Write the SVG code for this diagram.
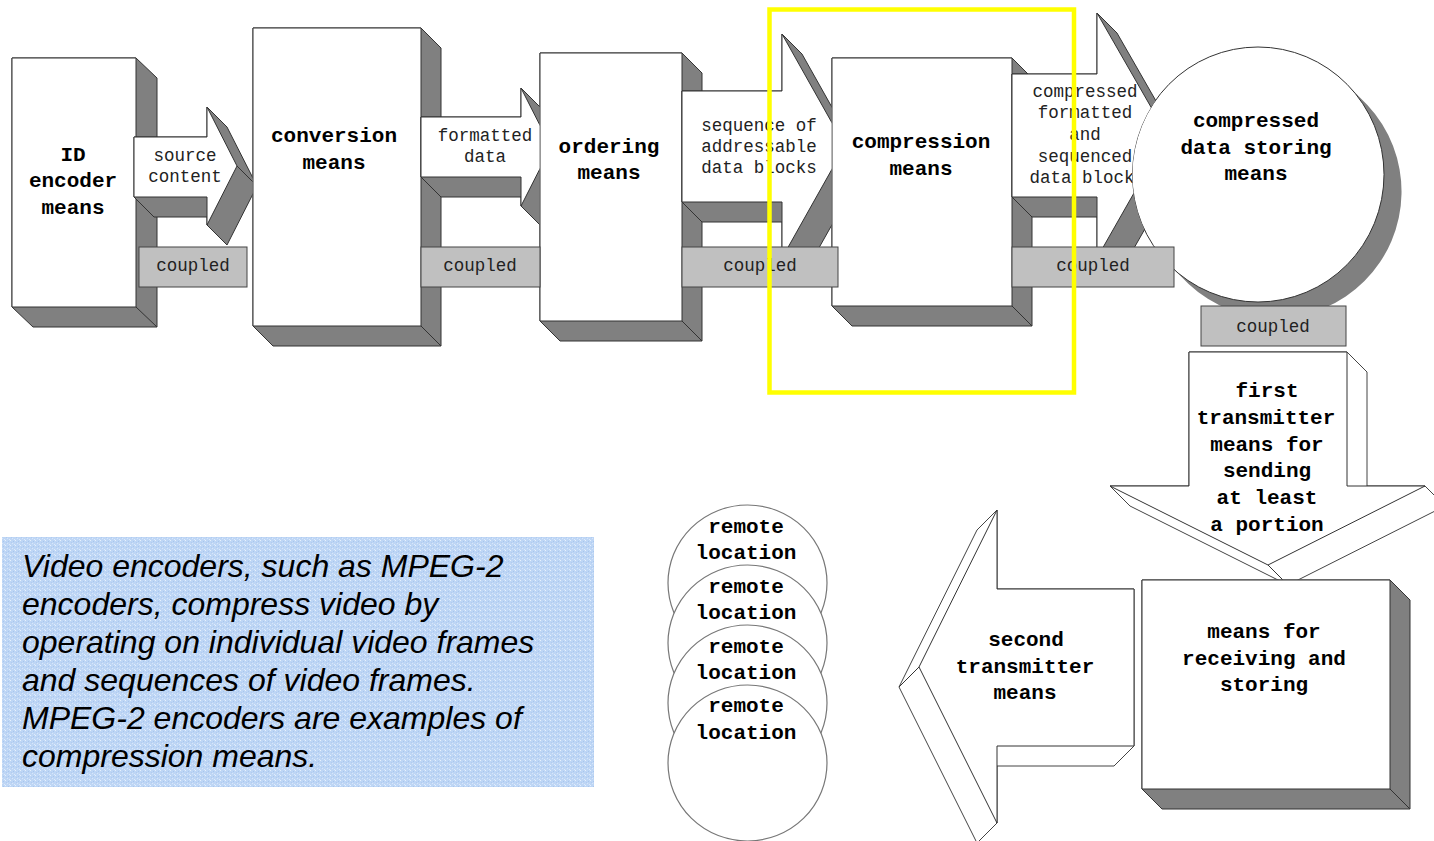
<svg xmlns="http://www.w3.org/2000/svg" width="1434" height="841" viewBox="0 0 1434 841">
<style>
.side{fill:#808080;stroke:#333;stroke-width:1;stroke-linejoin:round}
.face{fill:#fff;stroke:#333;stroke-width:1;stroke-linejoin:round}
.wside{fill:#fff;stroke:#444;stroke-width:1;stroke-linejoin:round}
.bar{fill:#c0c0c0;stroke:#444;stroke-width:1}
.ln{stroke:#333;stroke-width:1;fill:none}
.lb{font-family:"Liberation Mono","DejaVu Sans Mono",monospace;font-weight:bold;font-size:21px;text-anchor:middle;fill:#000}
.ls{font-family:"Liberation Mono","DejaVu Sans Mono",monospace;font-size:17.5px;text-anchor:middle;fill:#222}
.rc{fill:#fff;stroke:#777;stroke-width:1.2}
.note{font-family:"Liberation Sans",Arial,sans-serif;font-style:italic;font-size:32px;fill:#000}
</style>
<defs>
<clipPath id="c1"><rect x="0" y="0" width="252.5" height="841"/></clipPath>
<clipPath id="c2"><rect x="0" y="0" width="539.5" height="841"/></clipPath>
<clipPath id="c3"><rect x="0" y="0" width="831.5" height="841"/></clipPath>
<clipPath id="c4"><path clip-rule="evenodd" d="M0 0H1434V841H0Z M1132 174.5a126 127.5 0 1 0 252 0a126 127.5 0 1 0 -252 0Z"/></clipPath>
<clipPath id="c5"><rect x="0" y="0" width="1434" height="579.5"/></clipPath>
<pattern id="tex" width="5" height="5" patternUnits="userSpaceOnUse">
<rect width="5" height="5" fill="#bed6f5"/>
<rect x="0" y="0" width="1" height="1" fill="#e6f0fd"/>
<rect x="2" y="3" width="1" height="1" fill="#d8e6fa"/>
<rect x="3" y="1" width="1" height="1" fill="#a8c6ef"/>
<rect x="4" y="4" width="1" height="1" fill="#deeafb"/>
<rect x="1" y="2" width="1" height="1" fill="#b0cbf1"/>
</pattern>
</defs>
<rect width="1434" height="841" fill="#fff"/>

<g id="id-encoder">
<polygon class="side" points="12,58 136,58 157,78 157,327 33,327 12,307"/>
<line class="ln" x1="136" y1="307" x2="157" y2="327"/>
<rect class="face" x="12" y="58" width="124" height="249"/>
<text class="lb" x="73" y="161">ID</text>
<text class="lb" x="73" y="187">encoder</text>
<text class="lb" x="73" y="214">means</text>
</g>

<g id="conversion">
<polygon class="side" points="253,28 421,28 441,48 441,346 273,346 253,326"/>
<line class="ln" x1="421" y1="326" x2="441" y2="346"/>
<rect class="face" x="253" y="28" width="168" height="298"/>
<text class="lb" x="334" y="142">conversion</text>
<text class="lb" x="334" y="169">means</text>
</g>

<g id="ordering">
<polygon class="side" points="540,53 682,53 702,73 702,341 560,341 540,321"/>
<line class="ln" x1="682" y1="321" x2="702" y2="341"/>
<rect class="face" x="540" y="53" width="142" height="268"/>
<text class="lb" x="609" y="153">ordering</text>
<text class="lb" x="609" y="179">means</text>
</g>

<g id="compression">
<polygon class="side" points="832,58 1012,58 1032,78 1032,326 852,326 832,306"/>
<line class="ln" x1="1012" y1="306" x2="1032" y2="326"/>
<rect class="face" x="832" y="58" width="180" height="248"/>
<text class="lb" x="921" y="148">compression</text>
<text class="lb" x="921" y="175">means</text>
</g>

<g id="storing">
<path d="M1347.4 85.1L1367.4 105.1A126.5 126.5 0 0 1 1188.6 283.9L1168.6 263.9A126.5 126.5 0 0 0 1347.4 85.1Z" fill="#808080"/>
<ellipse class="face" cx="1258" cy="174.5" rx="126" ry="127.5"/>
<text class="lb" x="1256" y="127">compressed</text>
<text class="lb" x="1256" y="154">data storing</text>
<text class="lb" x="1256" y="180">means</text>
</g>

<g id="connectors">
<g id="arrow-source" clip-path="url(#c1)">
<polygon class="side" points="134,137 207,137 207,107 227,127 257,186 227,245 207,225 207,217 154,217 134,197"/>
<line class="ln" x1="237" y1="166" x2="257" y2="186"/>
<polygon class="face" points="134,137 207,137 207,107 237,166 207,225 207,197 134,197"/>
<text class="ls" x="185" y="161">source</text>
<text class="ls" x="185" y="182">content</text>
</g>
<g id="arrow-formatted" clip-path="url(#c2)">
<polygon class="side" points="421,117 521,117 521,88 541,108 571,167 541,226 521,206 521,197 441,197 421,177"/>
<polygon class="face" points="421,117 521,117 521,88 551,147 521,206 521,177 421,177"/>
<text class="ls" x="485" y="141">formatted</text>
<text class="ls" x="485" y="162">data</text>
</g>
<g id="arrow-sequence" clip-path="url(#c3)">
<polygon class="side" points="682,91 782,91 782,34 802,54 865,166 802,278 782,258 782,222 702,222 682,202"/>
<polygon class="face" points="682,91 782,91 782,34 845,146 782,258 782,202 682,202"/>
<text class="ls" x="759" y="131">sequence of</text>
<text class="ls" x="759" y="152">addressable</text>
<text class="ls" x="759" y="173">data blocks</text>
</g>
<g id="arrow-compressed" clip-path="url(#c4)">
<polygon class="side" points="1012,74 1097,74 1097,13 1117,33 1187,155 1117,278 1097,258 1097,217 1032,217 1012,197"/>
<polygon class="face" points="1012,74 1097,74 1097,13 1167,135 1097,258 1097,197 1012,197"/>
<text class="ls" x="1085" y="97">compressed</text>
<text class="ls" x="1085" y="118">formatted</text>
<text class="ls" x="1085" y="140">and</text>
<text class="ls" x="1085" y="162">sequenced</text>
<text class="ls" x="1082" y="183">data block</text>
</g>
<g id="coupled-bars">
<rect class="bar" x="139" y="247" width="108" height="40"/>
<text class="ls" x="193" y="271">coupled</text>
<rect class="bar" x="421" y="247" width="119" height="40"/>
<text class="ls" x="480" y="271">coupled</text>
<rect class="bar" x="682" y="247" width="156" height="40"/>
<text class="ls" x="760" y="271">coupled</text>
<rect class="bar" x="1012" y="247" width="162" height="40"/>
<text class="ls" x="1093" y="271">coupled</text>
<rect class="bar" x="1201" y="306" width="145" height="40"/>
<text class="ls" x="1273" y="332">coupled</text>
</g>
<g id="arrow-first" clip-path="url(#c5)">
<polygon class="wside" points="1189,352 1347,352 1367,372 1367,486 1425,486 1445,506 1288,585 1130,506 1110,486 1189,486"/>
<line class="ln" x1="1268" y1="565" x2="1288" y2="585"/>
<polygon class="face" points="1189,352 1347,352 1347,486 1425,486 1268,565 1110,486 1189,486"/>
<text class="lb" x="1267" y="397">first</text>
<text class="lb" x="1266" y="424">transmitter</text>
<text class="lb" x="1267" y="451">means for</text>
<text class="lb" x="1267" y="477">sending</text>
<text class="lb" x="1267" y="504">at least</text>
<text class="lb" x="1267" y="531">a portion</text>
</g>
</g>

<g id="receiving">
<polygon class="side" points="1142,580 1390,580 1410,600 1410,809 1162,809 1142,789"/>
<line class="ln" x1="1390" y1="789" x2="1410" y2="809"/>
<rect class="face" x="1142" y="580" width="248" height="209"/>
<text class="lb" x="1264" y="638">means for</text>
<text class="lb" x="1264" y="665">receiving and</text>
<text class="lb" x="1264" y="691">storing</text>
</g>

<g id="second-transmitter">
<polygon class="wside" points="997,510 997,589 1134,589 1134,746 1114,766 997,766 997,823 977,843 899,687 977,530"/>
<line class="ln" x1="919" y1="667" x2="899" y2="687"/>
<polygon class="face" points="997,510 997,589 1134,589 1134,746 997,746 997,823 919,667"/>
<text class="lb" x="1026" y="646">second</text>
<text class="lb" x="1025" y="673">transmitter</text>
<text class="lb" x="1025" y="699">means</text>
</g>

<g id="remote-1">
<ellipse class="rc" cx="747.5" cy="583" rx="79.5" ry="78"/>
<text class="lb" x="746" y="533">remote</text>
<text class="lb" x="746" y="559">location</text>
</g>
<g id="remote-2">
<ellipse class="rc" cx="747.5" cy="643" rx="79.5" ry="78"/>
<text class="lb" x="746" y="593">remote</text>
<text class="lb" x="746" y="619">location</text>
</g>
<g id="remote-3">
<ellipse class="rc" cx="747.5" cy="703" rx="79.5" ry="78"/>
<text class="lb" x="746" y="653">remote</text>
<text class="lb" x="746" y="679">location</text>
</g>
<g id="remote-4">
<ellipse class="rc" cx="747.5" cy="763" rx="79.5" ry="78"/>
<text class="lb" x="746" y="712">remote</text>
<text class="lb" x="746" y="739">location</text>
</g>

<g id="note">
<rect x="2" y="537" width="592" height="250" fill="url(#tex)"/>
<text class="note" x="22" y="577">Video encoders, such as MPEG-2</text>
<text class="note" x="22" y="615">encoders, compress video by</text>
<text class="note" x="22" y="653">operating on individual video frames</text>
<text class="note" x="22" y="691">and sequences of video frames.</text>
<text class="note" x="22" y="729">MPEG-2 encoders are examples of</text>
<text class="note" x="22" y="767">compression means.</text>
</g>

<g id="highlight">
<rect x="769.5" y="9.5" width="304.5" height="383" fill="none" stroke="#ffff00" stroke-width="4.5"/>
</g>
</svg>
